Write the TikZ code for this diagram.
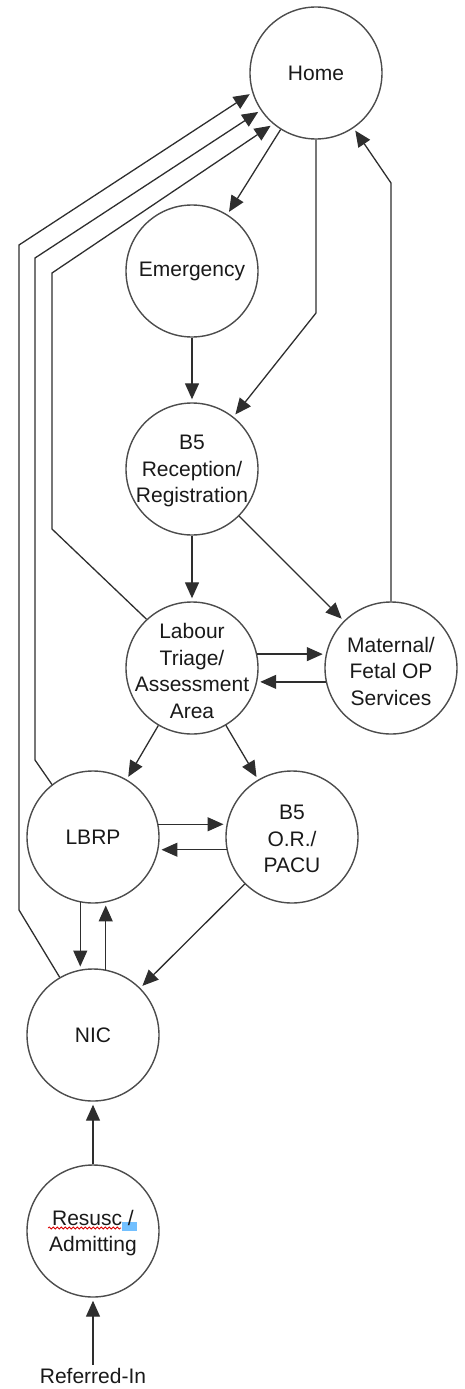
\documentclass[tikz,border=0pt]{standalone}
\usepackage{fontspec}
\setmainfont{Liberation Sans}
\usetikzlibrary{arrows.meta,decorations.pathmorphing}
\begin{document}
\begin{tikzpicture}[x=1pt,y=-1pt,
  place/.style={circle,draw=black!70,line width=1.4pt,minimum size=132pt,inner sep=0pt},
  lbl/.style={align=center,font=\fontsize{21}{26.5}\selectfont,inner sep=0pt,text=black!90},
  flow/.style={draw=black!82,line width=1.3pt,shorten >=3pt,-{Triangle[length=16pt,width=14pt]}},
]
\useasboundingbox (0,0) rectangle (464,1389);
% places
\node[place] (home) at (316,73) {};
\node[place] (emer) at (192,271) {};
\node[place] (rec) at (192,469) {};
\node[place] (tri) at (192,668) {};
\node[place] (mat) at (391,668) {};
\node[place] (lbrp) at (93,837) {};
\node[place] (orpacu) at (292,837) {};
\node[place] (nic) at (93,1035) {};
\node[place] (res) at (93,1231) {};
% spell-check marks
\fill[blue!45!cyan!55] (122,1222) rectangle (137,1231);
\draw[red!85!black,line width=0.8pt,decorate,decoration={snake,amplitude=1pt,segment length=4pt}] (48,1228) -- (121,1228);
% labels
\node[lbl] (homet) at (home) {Home};
\node[lbl] (emert) at (emer) {Emergency};
\node[lbl] (rect) at (192,471) {B5\\Reception/\\Registration};
\node[lbl] (trit) at (192,671) {Labour\\Triage/\\Assessment\\Area};
\node[lbl] (matt) at (391,671) {Maternal/\\Fetal OP\\Services};
\node[lbl] (lbrpt) at (lbrp) {LBRP};
\node[lbl] (ort) at (292,839) {B5\\O.R./\\PACU};
\node[lbl] (nict) at (nic) {NIC};
\node[lbl] (rest) at (93,1233) {Resusc /\\Admitting};
\node[lbl,anchor=base,inner sep=3pt] (ref) at (93,1383) {Referred-In};
% bend points
\coordinate (b1) at (316,313);
\coordinate (b2) at (391,183);
\coordinate (b3a) at (52,529);
\coordinate (b3b) at (52,273);
\coordinate (b4a) at (35,760);
\coordinate (b4b) at (35,258);
\coordinate (b5a) at (19,910);
\coordinate (b5b) at (19,245);
% connectors
\draw[flow] (home) -- (emer);
\draw[flow] (home.south) -- (b1) -- (rec);
\draw[flow] (emer) -- (rec);
\draw[flow] (rec) -- (tri);
\draw[flow] (rec) -- (mat);
\draw[flow] (mat.north) -- (b2) -- (home);
\draw[flow] (tri.12) -- (mat.168);
\draw[flow] (mat.192) -- (tri.-12);
\draw[flow] (tri.133) -- (b3a) -- (b3b) -- (home.230);
\draw[flow] (lbrp.128) -- (b4a) -- (b4b) -- (home.214);
\draw[flow] (nic.120) -- (b5a) -- (b5b) -- (home.197);
\draw[flow] (tri) -- (lbrp);
\draw[flow] (tri) -- (orpacu);
\draw[flow] (lbrp.11) -- (orpacu.169);
\draw[flow] (orpacu.191) -- (lbrp.-11);
\draw[flow] (lbrp.259) -- (nic.101);
\draw[flow] (nic.79) -- (lbrp.-79);
\draw[flow] (orpacu) -- (nic);
\draw[flow] (res) -- (nic);
\draw[flow] (ref) -- (res);
\end{tikzpicture}
\end{document}
